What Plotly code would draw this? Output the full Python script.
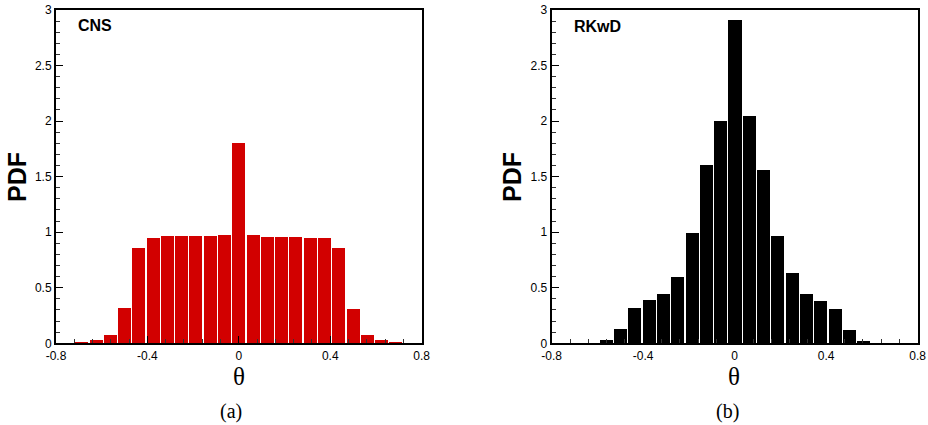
import plotly.graph_objects as go

# bin centres (bin width 1/16)
bin_width = 0.0625
centers_cns = [-0.6875, -0.625, -0.5625, -0.5, -0.4375, -0.375, -0.3125, -0.25, -0.1875,
               -0.125, -0.0625, 0.0, 0.0625, 0.125, 0.1875, 0.25, 0.3125, 0.375, 0.4375,
               0.5, 0.5625, 0.625, 0.6875]
pdf_cns = [0.012, 0.03, 0.075, 0.322, 0.861, 0.952, 0.970, 0.970, 0.970,
           0.970, 0.979, 1.80, 0.979, 0.961, 0.961, 0.961, 0.952, 0.952, 0.861,
           0.31, 0.075, 0.03, 0.012]

centers_rkwd = [-0.5625, -0.5, -0.4375, -0.375, -0.3125, -0.25, -0.1875, -0.125, -0.0625,
                0.0, 0.0625, 0.125, 0.1875, 0.25, 0.3125, 0.375, 0.4375, 0.5, 0.5625]
pdf_rkwd = [0.03, 0.13, 0.322, 0.39, 0.446, 0.60, 0.997, 1.604, 1.999,
            2.91, 2.046, 1.56, 0.97, 0.636, 0.446, 0.383, 0.31, 0.12, 0.02]

x_ticks = [-0.8, -0.4, 0, 0.4, 0.8]
x_ticklabels = ["-0.8", "-0.4", "0", "0.4", "0.8"]
y_ticks = [0, 0.5, 1, 1.5, 2, 2.5, 3]
y_ticklabels = ["0", "0.5", "1", "1.5", "2", "2.5", "3"]

W, H = 928, 425
fig = go.Figure()
fig.add_trace(go.Bar(x=centers_cns, y=pdf_cns, width=bin_width * 0.91,
                     marker=dict(color="#d20000", line=dict(width=0)),
                     xaxis="x", yaxis="y", showlegend=False))
fig.add_trace(go.Bar(x=centers_rkwd, y=pdf_rkwd, width=bin_width * 0.91,
                     marker=dict(color="#000000", line=dict(width=0)),
                     xaxis="x2", yaxis="y2", showlegend=False))

tickfont = dict(family="Liberation Sans, Arial, sans-serif", size=12, color="black")

def xax(domain, anchor):
    return dict(domain=domain, anchor=anchor, range=[-0.8, 0.8], automargin=False,
                tickmode="array", tickvals=x_ticks, ticktext=x_ticklabels,
                ticks="inside", ticklen=7, tickwidth=1.2, tickcolor="black",
                minor=dict(tickmode="linear", tick0=-0.8, dtick=0.08, ticks="inside",
                           ticklen=4, tickwidth=1, tickcolor="#333"),
                showline=True, linewidth=2, linecolor="black", mirror=True,
                showgrid=False, zeroline=False, tickfont=tickfont,
                fixedrange=True)

def yax(domain, anchor):
    return dict(domain=domain, anchor=anchor, range=[0, 3], automargin=False,
                tickmode="array", tickvals=y_ticks, ticktext=y_ticklabels,
                ticks="inside", ticklen=7, tickwidth=1.2, tickcolor="black",
                minor=dict(tickmode="linear", tick0=0, dtick=0.1, ticks="inside",
                           ticklen=4, tickwidth=1, tickcolor="#333"),
                showline=True, linewidth=2, linecolor="black", mirror=True,
                showgrid=False, zeroline=False, tickfont=tickfont,
                fixedrange=True)

yd = [(H - 343.3) / H, (H - 10) / H]
fig.update_layout(
    template="none",
    width=W, height=H, margin=dict(l=0, r=0, t=0, b=0, autoexpand=False),
    paper_bgcolor="white", plot_bgcolor="white", bargap=0,
    xaxis=xax([56 / W, 421.7 / W], "y"),
    yaxis=yax(yd, "x"),
    xaxis2=xax([551.7 / W, 917.7 / W], "y2"),
    yaxis2=yax(yd, "x2"),
)

ann = []
def text(x, y, s, size, family, angle=0, xanchor="center", yanchor="middle"):
    ann.append(dict(x=x / W, y=(H - y) / H, xref="paper", yref="paper", text=s,
                    showarrow=False, textangle=angle, xanchor=xanchor, yanchor=yanchor,
                    font=dict(size=size, family=family, color="black")))

sans_b = "Liberation Sans, Arial, sans-serif"
serif = "Liberation Serif, Times New Roman, serif"
text(17, 177, "<b>PDF</b>", 25, sans_b, angle=-90)
text(512, 177, "<b>PDF</b>", 25, sans_b, angle=-90)
text(76, 26, "<b>CNS</b>", 16, sans_b, xanchor="left")
text(572, 27, "<b>RKwD</b>", 16, sans_b, xanchor="left")
text(239, 376, "θ", 25, serif)
text(734, 376, "θ", 25, serif)
text(231, 411, "(a)", 20, serif)
text(727, 411, "(b)", 20, serif)
fig.update_layout(annotations=ann)

fig.write_html("out.html")
